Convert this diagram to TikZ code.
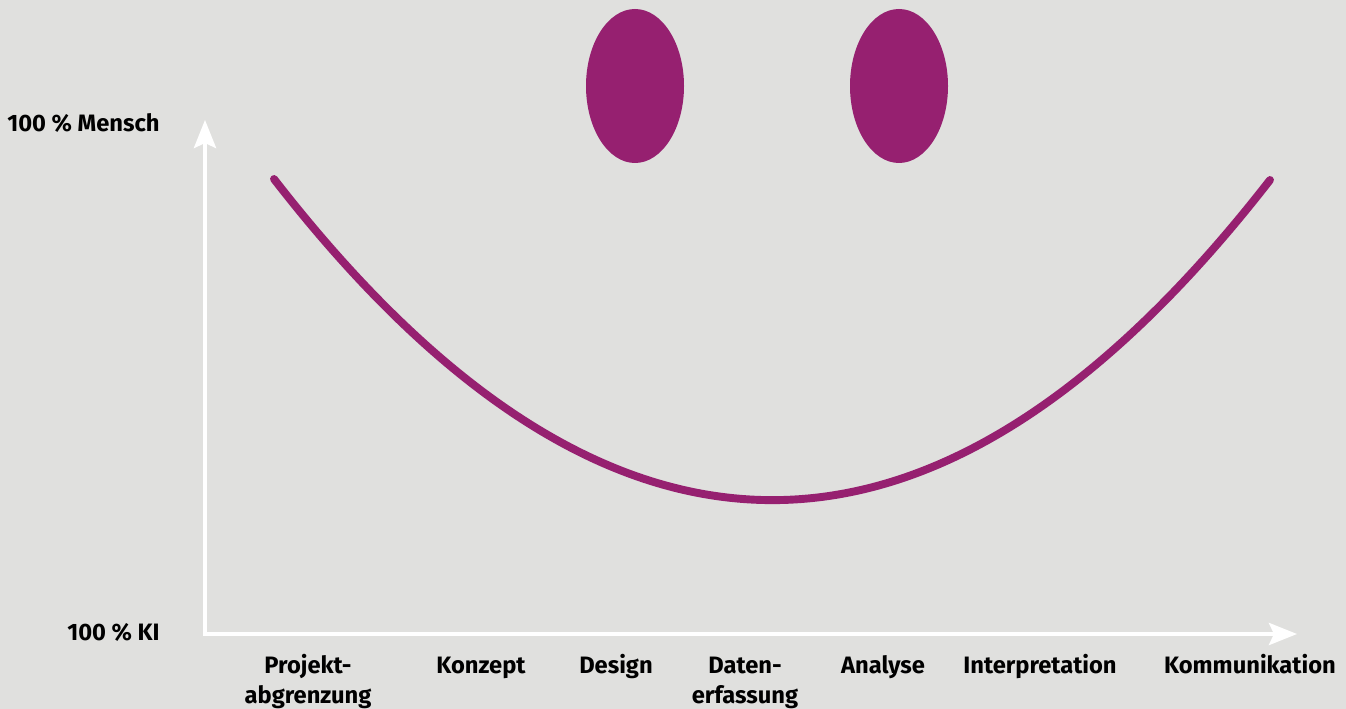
\documentclass[tikz,border=0pt]{standalone}
\usepackage{fontspec}
\setmainfont{Fira Sans}
\usepackage{xcolor}
\usetikzlibrary{arrows.meta}

\definecolor{bg}{RGB}{224,224,222}
\definecolor{smile}{RGB}{150,32,112}

\tikzset{
    axis/.style={white, line width=2.4pt, -{Stealth[length=0.56cm, width=0.44cm, inset=0.1cm]}},
    phase/.style={font=\bfseries\fontsize{13.5}{17}\selectfont, align=center, anchor=base, inner sep=0pt},
    level/.style={font=\bfseries\fontsize{13.5}{17}\selectfont, anchor=base east, inner sep=0pt}
}

\begin{document}
\begin{tikzpicture}[x=0.02cm, y=-0.02cm]
        \fill[bg] (0, 0) rectangle (1346, 709);
        \useasboundingbox (0, 0) rectangle (1346, 709);

        % eyes
        \fill[smile] (635, 86) ellipse (49 and 77);
        \fill[smile] (899, 86) ellipse (49 and 77);

        % axes
        \coordinate (O) at (205, 634);
        \coordinate (ytop) at (205, 120);
        \coordinate (xend) at (1297, 634);
        \draw[axis] (203, 634) -- (xend);
        \draw[axis] (205, 636) -- (ytop);

        \node[level] (mensch) at (160, 132) {100 \% Mensch};
        \node[level] (ki) at (160, 640) {100 \% KI};

        % mouth
        \coordinate (mstart) at (274, 179);
        \coordinate (mend) at (1270, 180);
        \draw[smile, line width=4.5pt, line cap=round]
            (mstart) .. controls (606, 607) and (938, 607) .. (mend);

        % phases along the x axis (two-line ones sit on their last line)
        \node[phase] (p1) at (308, 703) {Projekt-\\abgrenzung};
        \node[phase] (p2) at (481, 673) {Konzept};
        \node[phase] (p3) at (616, 673) {Design};
        \node[phase] (p4) at (745, 703) {Daten-\\erfassung};
        \node[phase] (p5) at (883, 673) {Analyse};
        \node[phase] (p6) at (1040, 673) {Interpretation};
        \node[phase] (p7) at (1250, 673) {Kommunikation};
    \end{tikzpicture}
\end{document}
